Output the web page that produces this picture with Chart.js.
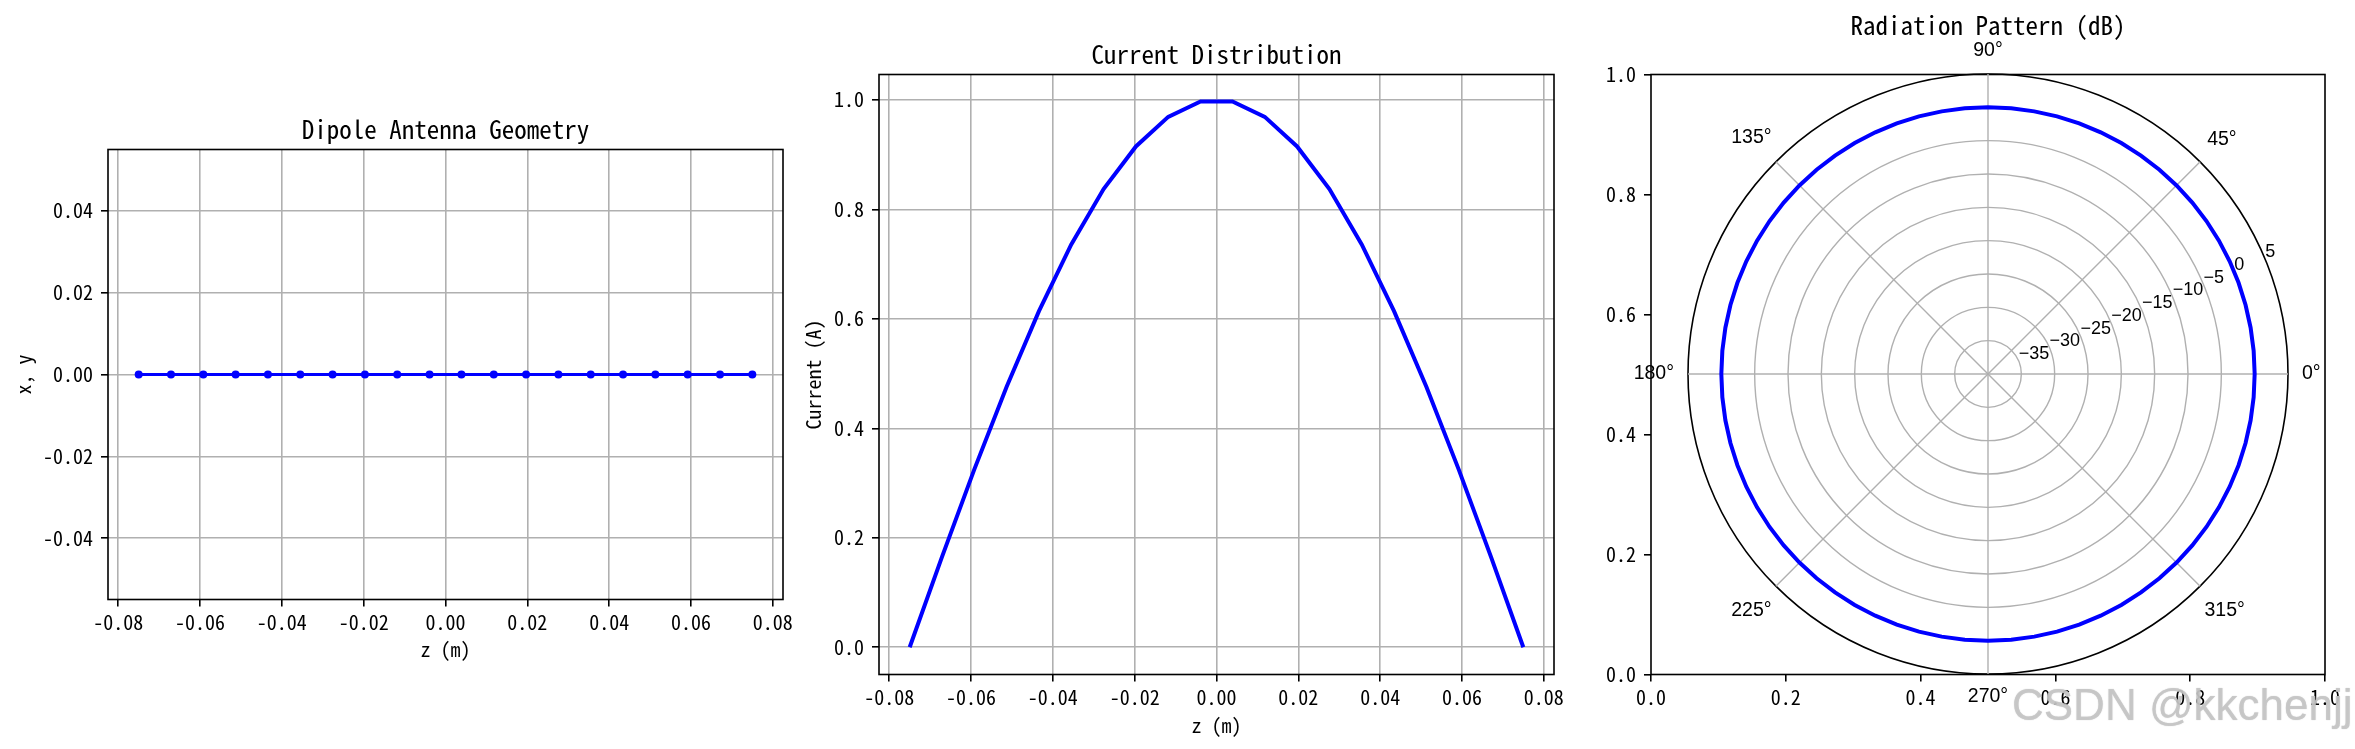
<!DOCTYPE html>
<html>
<head>
<meta charset="utf-8">
<script src="https://cdn.jsdelivr.net/npm/chart.js@4.4.1/dist/chart.umd.min.js"></script>
<style>
html,body{margin:0;padding:0;background:#fff;width:2355px;height:749px;overflow:hidden;position:relative}
canvas{position:absolute;top:0}
#wm{position:absolute;left:2012px;top:680px;font-family:'Liberation Sans',Arial,sans-serif;font-size:44px;color:rgba(200,200,200,0.85);text-shadow:0 0 1px rgba(150,150,150,0.6);white-space:nowrap;pointer-events:none}
</style>
</head>
<body>
<canvas id="c1" width="830" height="749" style="left:0px"></canvas>
<canvas id="c2" width="810" height="749" style="left:790px"></canvas>
<canvas id="c3" width="775" height="749" style="left:1580px"></canvas>
<canvas id="c4" width="735" height="749" style="left:1620px"></canvas>
<div id="wm">CSDN @kkchenjj</div>
<script>
// ---------- data ----------
const zPos = [-0.075, -0.0671, -0.0592, -0.0513, -0.0434, -0.0355, -0.0276, -0.0197, -0.0118, -0.0039,
              0.0039, 0.0118, 0.0197, 0.0276, 0.0355, 0.0434, 0.0513, 0.0592, 0.0671, 0.075];
const geomY = [0, 0, 0, 0, 0, 0, 0, 0, 0, 0, 0, 0, 0, 0, 0, 0, 0, 0, 0, 0];
const current = [0.000, 0.165, 0.325, 0.476, 0.614, 0.736, 0.837, 0.915, 0.969, 0.997,
                 0.997, 0.969, 0.915, 0.837, 0.736, 0.614, 0.476, 0.325, 0.165, 0.000];

const zTicks = [-0.08, -0.06, -0.04, -0.02, 0.00, 0.02, 0.04, 0.06, 0.08];
const zTickLabels = ['-0.08', '-0.06', '-0.04', '-0.02', '0.00', '0.02', '0.04', '0.06', '0.08'];
const xyTicks = [-0.04, -0.02, 0.00, 0.02, 0.04];
const xyTickLabels = ['-0.04', '-0.02', '0.00', '0.02', '0.04'];
const curTicks = [0.0, 0.2, 0.4, 0.6, 0.8, 1.0];
const curTickLabels = ['0.0', '0.2', '0.4', '0.6', '0.8', '1.0'];
const unitTicks = [0.0, 0.2, 0.4, 0.6, 0.8, 1.0];
const unitTickLabels = ['0.0', '0.2', '0.4', '0.6', '0.8', '1.0'];

// polar: angles listed in drawing order (clockwise from 0°)
const patternAngles = [0, 355, 350, 345, 340, 335, 330, 325, 320, 315, 310, 305, 300, 295, 290, 285, 280, 275,
  270, 265, 260, 255, 250, 245, 240, 235, 230, 225, 220, 215, 210, 205, 200, 195, 190, 185,
  180, 175, 170, 165, 160, 155, 150, 145, 140, 135, 130, 125, 120, 115, 110, 105, 100, 95,
  90, 85, 80, 75, 70, 65, 60, 55, 50, 45, 40, 35, 30, 25, 20, 15, 10, 5];
const patternDb = [0, 0, 0, 0, 0, 0, 0, 0, 0, 0, 0, 0, 0, 0, 0, 0, 0, 0,
  0, 0, 0, 0, 0, 0, 0, 0, 0, 0, 0, 0, 0, 0, 0, 0, 0, 0,
  0, 0, 0, 0, 0, 0, 0, 0, 0, 0, 0, 0, 0, 0, 0, 0, 0, 0,
  0, 0, 0, 0, 0, 0, 0, 0, 0, 0, 0, 0, 0, 0, 0, 0, 0, 0];
const thetaTicks = [0, 45, 90, 135, 180, 225, 270, 315];
const thetaTickLabels = ['0°', '45°', '90°', '135°', '180°', '225°', '270°', '315°'];
const rTicks = [-35, -30, -25, -20, -15, -10, -5, 0, 5];
const rTickLabels = ['−35', '−30', '−25', '−20', '−15', '−10', '−5', '0', '5'];

// ---------- style ----------
const FONT = "'Noto Sans Mono CJK SC','Noto Sans Mono CJK JP','DejaVu Sans Mono',monospace";
const PFONT = "'Liberation Sans',Arial,sans-serif";
Chart.defaults.font.family = FONT;
Chart.defaults.color = '#000';
const GRID = '#b0b0b0';

const frame = {
  id: 'frame',
  afterDraw(c) {
    const {ctx, chartArea: a} = c;
    ctx.save();
    ctx.strokeStyle = '#000';
    ctx.lineWidth = 1.6;
    ctx.strokeRect(a.left, a.top, a.right - a.left, a.bottom - a.top);
    ctx.restore();
  }
};

function axisCfg(min, max, ticks, labels, titleText, titlePad, isX, fixedSize, showGrid) {
  return {
    type: 'linear', min: min, max: max,
    afterBuildTicks: s => { s.ticks = ticks.map(v => ({value: v})); },
    afterFit: s => {
      if (isX) { s.height = fixedSize; s.paddingLeft = 0; s.paddingRight = 0; }
      else { s.width = fixedSize; s.paddingTop = 0; s.paddingBottom = 0; }
    },
    ticks: {
      autoSkip: false, maxRotation: 0, minRotation: 0,
      padding: isX ? 4 : 8,
      font: {size: 20, lineHeight: 1.2},
      color: '#000',
      callback: (v, i) => labels[i]
    },
    grid: {color: GRID, lineWidth: 1.6, tickColor: '#000', tickWidth: 1.6, tickLength: 7,
           drawTicks: true, drawOnChartArea: showGrid},
    border: {display: false},
    title: titleText ? {
      display: true, text: titleText, color: '#000',
      font: {size: 20, lineHeight: 1.2},
      padding: isX ? {top: 0, bottom: titlePad} : {top: titlePad, bottom: 0}
    } : {display: false}
  };
}

function cartesian(id, cx0, cw, area, title, titleCY, xAxis, yAxis, datasets, showGrid) {
  const titleLH = 25 * 1.2;
  const xScaleBottom = xAxis.bottomAt;
  return new Chart(document.getElementById(id), {
    type: 'scatter',
    data: {datasets: datasets},
    options: {
      responsive: false, animation: false,
      layout: {padding: {left: 0, top: 0, right: cx0 + cw - area.r, bottom: 749 - xScaleBottom}},
      plugins: {
        legend: {display: false}, tooltip: {enabled: false},
        title: {
          display: true, text: title, fullSize: false, color: '#000',
          font: {size: 25, lineHeight: 1.2, weight: 'normal'},
          padding: {top: titleCY - titleLH / 2, bottom: area.t - titleCY - titleLH / 2}
        }
      },
      scales: {
        x: axisCfg(xAxis.min, xAxis.max, xAxis.ticks, xAxis.labels, xAxis.title, xAxis.title ? 12 : 0, true, xScaleBottom - area.b, showGrid),
        y: axisCfg(yAxis.min, yAxis.max, yAxis.ticks, yAxis.labels, yAxis.title, yAxis.title ? (yAxis.titleCX - cx0 - 12) : 0, false, area.l - cx0, showGrid)
      }
    },
    plugins: [frame]
  });
}

// ---------- panel 1: geometry ----------
cartesian('c1', 0, 830, {l: 108, t: 149.5, r: 783, b: 599.5}, 'Dipole Antenna Geometry', 129,
  {min: -0.0825, max: 0.0825, ticks: zTicks, labels: zTickLabels, title: 'z (m)', bottomAt: 673},
  {min: -0.055, max: 0.055, ticks: xyTicks, labels: xyTickLabels, title: 'x, y', titleCX: 23},
  [{
    data: zPos.map((z, i) => ({x: z, y: geomY[i]})),
    showLine: true, borderColor: '#0000ff', backgroundColor: '#0000ff',
    borderWidth: 3, pointRadius: 4, pointBorderWidth: 0, pointHoverRadius: 4
  }], true);

// ---------- panel 2: current ----------
cartesian('c2', 790, 810, {l: 879, t: 74.5, r: 1554, b: 674.5}, 'Current Distribution', 54,
  {min: -0.0825, max: 0.0825, ticks: zTicks, labels: zTickLabels, title: 'z (m)', bottomAt: 749},
  {min: -0.0498, max: 1.0464, ticks: curTicks, labels: curTickLabels, title: 'Current (A)', titleCX: 813},
  [{
    data: zPos.map((z, i) => ({x: z, y: current[i]})),
    showLine: true, borderColor: '#0000ff', backgroundColor: '#0000ff',
    borderWidth: 4, pointRadius: 0, pointHoverRadius: 0
  }], true);

// ---------- panel 3: cartesian frame behind polar ----------
cartesian('c3', 1580, 775, {l: 1651, t: 74.5, r: 2325, b: 674.5}, 'Radiation Pattern (dB)', 25,
  {min: 0, max: 1, ticks: unitTicks, labels: unitTickLabels, title: null, bottomAt: 749},
  {min: 0, max: 1, ticks: unitTicks, labels: unitTickLabels, title: null, titleCX: 0},
  [{data: []}], false);

// ---------- panel 3: polar ----------
const polarText = {
  id: 'polarText',
  afterDraw(c) {
    const s = c.scales.r, ctx = c.ctx;
    ctx.save();
    ctx.fillStyle = '#000';
    ctx.font = '19.5px ' + PFONT;
    ctx.textAlign = 'center';
    ctx.textBaseline = 'middle';
    thetaTicks.forEach((a, i) => {
      const t = a * Math.PI / 180;
      const w = ctx.measureText(thetaTickLabels[i]).width;
      const ext = Math.abs(Math.cos(t)) * w / 2 + Math.abs(Math.sin(t)) * 9;
      const dl = s.drawingArea + 14 + ext;
      ctx.fillText(thetaTickLabels[i], s.xCenter + dl * Math.cos(t), s.yCenter - dl * Math.sin(t));
    });
    ctx.font = '18px ' + PFONT;
    ctx.textAlign = 'left';
    ctx.textBaseline = 'alphabetic';
    const rl = 22.5 * Math.PI / 180;
    rTicks.forEach((v, i) => {
      const d = s.getDistanceFromCenterForValue(v);
      ctx.fillText(rTickLabels[i], s.xCenter + d * Math.cos(rl), s.yCenter - d * Math.sin(rl) - 2);
    });
    ctx.restore();
  }
};

new Chart(document.getElementById('c4'), {
  type: 'radar',
  data: {
    labels: patternAngles.map(a => a + '°'),
    datasets: [{
      data: patternDb, borderColor: '#0000ff', borderWidth: 4, pointRadius: 0,
      pointHoverRadius: 0, fill: false, tension: 0
    }]
  },
  options: {
    responsive: false, animation: false,
    layout: {padding: {left: 68, right: 67, top: 74, bottom: 75}},
    plugins: {legend: {display: false}, tooltip: {enabled: false}, title: {display: false}},
    scales: {
      r: {
        min: -40, max: 5, startAngle: 90,
        ticks: {display: false, stepSize: 5},
        pointLabels: {display: false},
        grid: {
          circular: true,
          color: ctx => (ctx.tick && ctx.tick.value === 5) ? '#000' : GRID,
          lineWidth: ctx => (ctx.tick && ctx.tick.value === 5) ? 1.6 : 1.4
        },
        angleLines: {
          display: true, color: GRID,
          lineWidth: ctx => (patternAngles[ctx.index] % 45 === 0) ? 1.4 : 0
        }
      }
    }
  },
  plugins: [polarText]
});
</script>
</body>
</html>
